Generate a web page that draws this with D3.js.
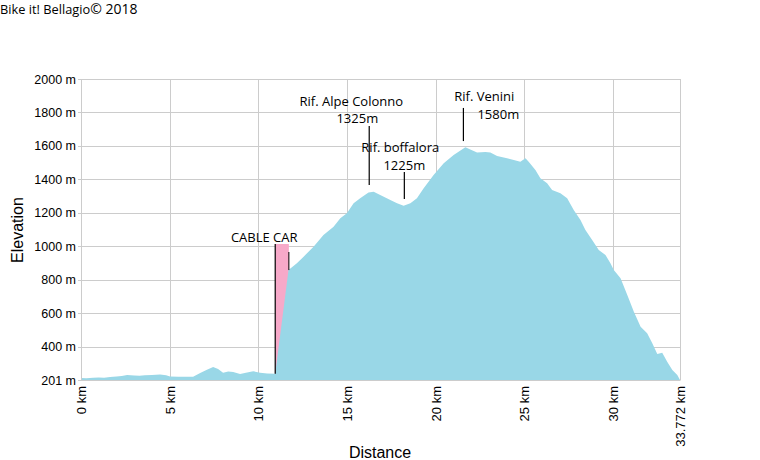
<!DOCTYPE html>
<html>
<head>
<meta charset="utf-8">
<script src="https://cdn.jsdelivr.net/npm/d3@7"></script>
<style>
  html, body { margin: 0; padding: 0; background: #fff; }
  svg { display: block; }
</style>
</head>
<body>
<svg id="chart" width="760" height="460"></svg>
<script>
// ---------- data ----------
const distanceKm = [0, 0.3, 0.68, 1.0, 1.3, 1.64, 2.0, 2.3, 2.6, 3.0, 3.3, 3.6, 4.0, 4.46, 4.8, 5.02, 5.5, 6.0, 6.32, 6.72, 7.1, 7.45, 7.73, 8.01, 8.3, 8.58, 8.97, 9.3, 9.71, 10.1, 10.5, 10.95,
  11.70, 12.17, 12.55, 13.11, 13.67, 14.24, 14.62, 14.99, 15.37, 15.74, 16.21, 16.50, 16.87, 17.44, 17.82, 18.19, 18.57, 18.94, 19.32, 19.88, 20.45, 21.01, 21.67, 22.14, 22.33, 22.80, 23.08, 23.46, 24.02, 24.40, 24.77, 25.06, 25.24, 25.62, 25.90, 26.28, 26.56, 27.03, 27.41, 27.78, 28.16, 28.44, 28.82, 29.19, 29.57, 29.85, 30.04, 30.42, 30.80, 31.17, 31.55, 31.92, 32.21, 32.49, 32.77, 33.05, 33.34, 33.62, 33.772];
const elevationM = [213, 212, 214, 216, 214, 219, 222, 225, 231, 228, 226, 229, 231, 234, 230, 222, 220, 220, 221, 243, 262, 279, 267, 245, 252, 249, 237, 244, 253, 245, 240, 238,
  858, 899, 938, 998, 1068, 1117, 1167, 1197, 1257, 1287, 1321, 1326, 1307, 1277, 1257, 1243, 1257, 1287, 1347, 1426, 1496, 1546, 1592, 1570, 1560, 1564, 1560, 1540, 1526, 1516, 1506, 1526, 1506, 1456, 1407, 1377, 1337, 1317, 1287, 1217, 1157, 1098, 1038, 978, 948, 899, 858, 809, 709, 609, 520, 480, 420, 356, 364, 310, 261, 231, 201];

const xTickValues = [0, 5, 10, 15, 20, 25, 30, 33.772];
const xTickLabels = ["0 km", "5 km", "10 km", "15 km", "20 km", "25 km", "30 km", "33.772 km"];
const yTickValues = [201, 400, 600, 800, 1000, 1200, 1400, 1600, 1800, 2000];
const yTickLabels = ["201 m", "400 m", "600 m", "800 m", "1000 m", "1200 m", "1400 m", "1600 m", "1800 m", "2000 m"];

// refuges (positions in km / metres)
const refugeNames = ["Rif. Alpe Colonno", "Rif. boffalora", "Rif. Venini"];
const refugeHeights = ["1325m", "1225m", "1580m"];
const refugeLineKm = [16.25, 18.23, 21.56];
const refugeLineTop = [1719, 1444, 1827];
const refugeLineBottom = [1366, 1283, 1629];
const refugeNameKm = [15.24, 18.0, 22.74];
const refugeNameM = [1839, 1564, 1869];
const refugeHeightKm = [15.58, 18.23, 23.53];
const refugeHeightM = [1737, 1456, 1762];

// cable car
const cableLabel = "CABLE CAR";
const cableStartKm = 10.95;
const cableEndKm = 11.72;
const cableTopM = 1014;
const cableStartBottomM = 238;
const cableEndBottomM = 858;
const cableEndTopM = 966;
const cableLabelKm = 10.33;
const cableLabelM = 1026;

const titleMain = "Bike it! Bellagio";
const titleTail = "© 2018";
const xTitle = "Distance";
const yTitle = "Elevation";

// ---------- chart ----------
const svg = d3.select("#chart");
const x = d3.scaleLinear().domain([0, 33.772]).range([81, 680]);
const y = d3.scaleLinear().domain([201, 2000]).range([380, 79]);

const axisFont = "'Liberation Sans', Arial, sans-serif";
const annFont = "'Open Sans', 'Noto Sans', sans-serif";
const annSize = 13;
const gridColor = "#cccccc";

// title
const t = svg.append("text").attr("x", 0).attr("y", 14)
  .attr("font-family", annFont).attr("fill", "#000");
t.append("tspan").attr("font-size", 12.8).text(titleMain);
t.append("tspan").attr("font-size", 14).text(titleTail);

// grid
svg.append("g").selectAll("line.h").data(yTickValues).join("line")
  .attr("x1", 78).attr("x2", 680)
  .attr("y1", d => Math.round(y(d)) + 0.5).attr("y2", d => Math.round(y(d)) + 0.5)
  .attr("stroke", gridColor).attr("stroke-width", 1);
svg.append("g").selectAll("line.v").data(xTickValues).join("line")
  .attr("x1", d => Math.round(x(d)) + 0.5).attr("x2", d => Math.round(x(d)) + 0.5)
  .attr("y1", 79).attr("y2", 380)
  .attr("stroke", gridColor).attr("stroke-width", 1);

// cable car box
svg.append("rect")
  .attr("x", x(cableStartKm)).attr("y", y(cableTopM))
  .attr("width", x(cableEndKm) - x(cableStartKm))
  .attr("height", y(201) - y(cableTopM))
  .attr("fill", "#f7a9c9");

// profile
const pts = distanceKm.map((d, i) => [d, elevationM[i]]);
const area = d3.area().x(d => x(d[0])).y0(y(201)).y1(d => y(d[1]));
svg.append("path").datum(pts).attr("d", area).attr("fill", "#99d7e7");

// cable car lines
svg.append("line")
  .attr("x1", x(cableStartKm)).attr("x2", x(cableStartKm))
  .attr("y1", y(cableStartBottomM)).attr("y2", y(cableTopM))
  .attr("stroke", "#000").attr("stroke-width", 1.2);
svg.append("line")
  .attr("x1", x(cableEndKm)).attr("x2", x(cableEndKm))
  .attr("y1", y(cableEndBottomM)).attr("y2", y(cableEndTopM))
  .attr("stroke", "#000").attr("stroke-width", 1);
svg.append("text")
  .attr("x", x(cableLabelKm)).attr("y", y(cableLabelM))
  .attr("text-anchor", "middle").attr("font-family", annFont).attr("font-size", annSize)
  .attr("fill", "#000").text(cableLabel);

// refuges
refugeNames.forEach((name, i) => {
  svg.append("line")
    .attr("x1", x(refugeLineKm[i])).attr("x2", x(refugeLineKm[i]))
    .attr("y1", y(refugeLineTop[i])).attr("y2", y(refugeLineBottom[i]))
    .attr("stroke", "#000").attr("stroke-width", 1.2);
  svg.append("text")
    .attr("x", x(refugeNameKm[i])).attr("y", y(refugeNameM[i]))
    .attr("text-anchor", "middle").attr("font-family", annFont).attr("font-size", annSize)
    .attr("fill", "#000").text(name);
  svg.append("text")
    .attr("x", x(refugeHeightKm[i])).attr("y", y(refugeHeightM[i]))
    .attr("text-anchor", "middle").attr("font-family", annFont).attr("font-size", annSize)
    .attr("fill", "#000").text(refugeHeights[i]);
});

// y axis
const yAxis = d3.axisLeft(y).tickValues(yTickValues)
  .tickFormat((d, i) => yTickLabels[i]).tickSize(0).tickPadding(5);
const gy = svg.append("g").attr("transform", "translate(81,0)").call(yAxis);
gy.select(".domain").attr("stroke", gridColor);
gy.selectAll("text").attr("font-family", axisFont).attr("font-size", 12.5).attr("fill", "#000");

// x axis
const xAxis = d3.axisBottom(x).tickValues(xTickValues)
  .tickFormat((d, i) => xTickLabels[i]).tickSize(0).tickPadding(0);
const gx = svg.append("g").attr("transform", "translate(0,380)").call(xAxis);
gx.select(".domain").attr("stroke", gridColor);
gx.selectAll("text")
  .attr("font-family", axisFont).attr("font-size", 13).attr("fill", "#000")
  .attr("text-anchor", "end")
  .attr("transform", "rotate(-90)")
  .attr("x", -6).attr("y", 0).attr("dy", "0.35em");

// axis titles
svg.append("text").attr("x", 380).attr("y", 458).attr("text-anchor", "middle")
  .attr("font-family", axisFont).attr("font-size", 16).attr("fill", "#000").text(xTitle);
svg.append("text").attr("transform", "translate(23,230) rotate(-90)").attr("text-anchor", "middle")
  .attr("font-family", axisFont).attr("font-size", 16).attr("fill", "#000").text(yTitle);
</script>
</body>
</html>
